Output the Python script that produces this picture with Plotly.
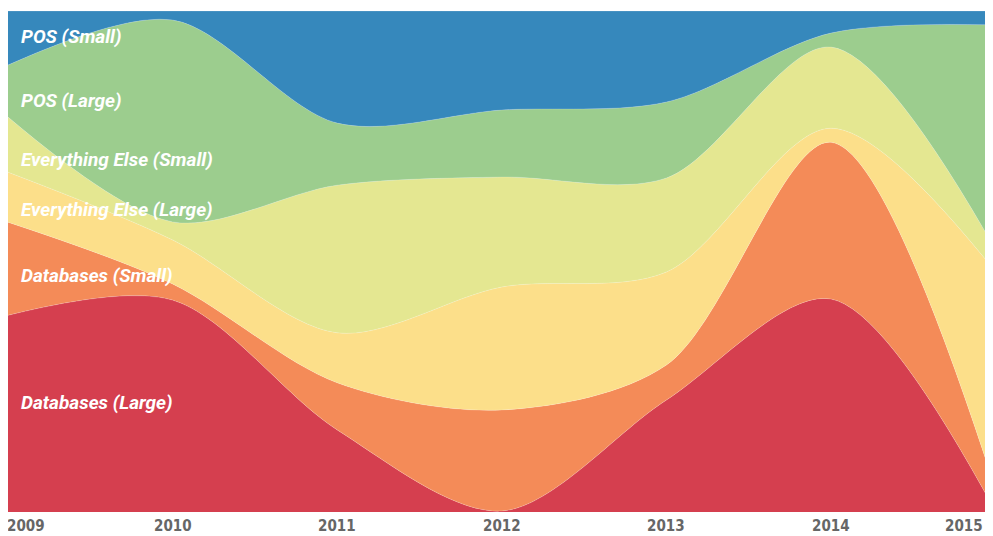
import plotly.graph_objects as go

# share of each segment per year (percent)
years = [2009, 2010, 2011, 2012, 2013, 2014, 2015]
db_large = [39.3, 42.3, 16.4, 0.2, 22.4, 42.5, 0.0]
db_small = [18.6, 3.2, 9.4, 20.2, 7.0, 31.3, 4.4]
else_large = [10.0, 8.8, 10.0, 24.6, 18.6, 2.8, 43.5]
else_small = [11.0, 3.6, 29.5, 22.0, 18.8, 16.2, 4.4]
pos_large = [10.4, 40.3, 12.4, 13.4, 15.2, 2.8, 44.9]
pos_small = [10.8, 1.8, 22.4, 19.8, 18.2, 4.4, 2.8]

series = [
    ("Databases (Large)", db_large, "#d53f4f"),
    ("Databases (Small)", db_small, "#f48b58"),
    ("Everything Else (Large)", else_large, "#fcdf8a"),
    ("Everything Else (Small)", else_small, "#e4e791"),
    ("POS (Large)", pos_large, "#9ccd8e"),
    ("POS (Small)", pos_small, "#3688bc"),
]
# label heights (paper coords) along the left edge
label_y = [0.218, 0.473, 0.603, 0.703, 0.822, 0.950]

fig = go.Figure()
for name, vals, col in series:
    fig.add_trace(go.Scatter(x=years, y=vals, name=name, mode="lines",
                             stackgroup="one", groupnorm="percent",
                             line=dict(shape="spline", smoothing=0.9, width=0.6,
                                       color="rgba(255,255,255,0.3)"),
                             fillcolor=col, hoverinfo="name+y"))

for (name, vals, col), yy in zip(series, label_y):
    fig.add_annotation(text=name, xref="paper", yref="paper", x=0.011, y=yy,
                       xanchor="left", yanchor="middle", showarrow=False,
                       font=dict(family="Roboto", size=19, color="white",
                                 weight="bold", style="italic"))

# year labels; the two end ones are pulled inwards so they stay visible
tick_font = dict(family="DejaVu Sans Condensed", size=15, color="#666666",
                 weight="bold")
for yr in years[:-1]:
    fig.add_annotation(text=str(yr), xref="x", yref="paper", x=yr, y=0,
                       xanchor="center", yanchor="top", yshift=-3,
                       xshift=18 if yr == 2009 else 0,
                       showarrow=False, font=tick_font)
fig.add_annotation(text=str(years[-1]), xref="paper", yref="paper", x=1, y=0,
                   xanchor="right", yanchor="top", yshift=-3,
                   showarrow=False, font=tick_font)

fig.update_xaxes(range=[2009, 2014.935], showticklabels=False, showgrid=False,
                 zeroline=False, showline=False)
fig.update_yaxes(range=[0, 100], showticklabels=False, showgrid=False,
                 zeroline=False, showline=False)
# the page adds an 8px body margin, so the figure is a bit smaller than the window
fig.update_layout(width=977, height=528, showlegend=False,
                  margin={"l": 0, "r": 0, "t": 3, "b": 24},
                  plot_bgcolor="white", paper_bgcolor="white")
fig.write_html("out.html")
